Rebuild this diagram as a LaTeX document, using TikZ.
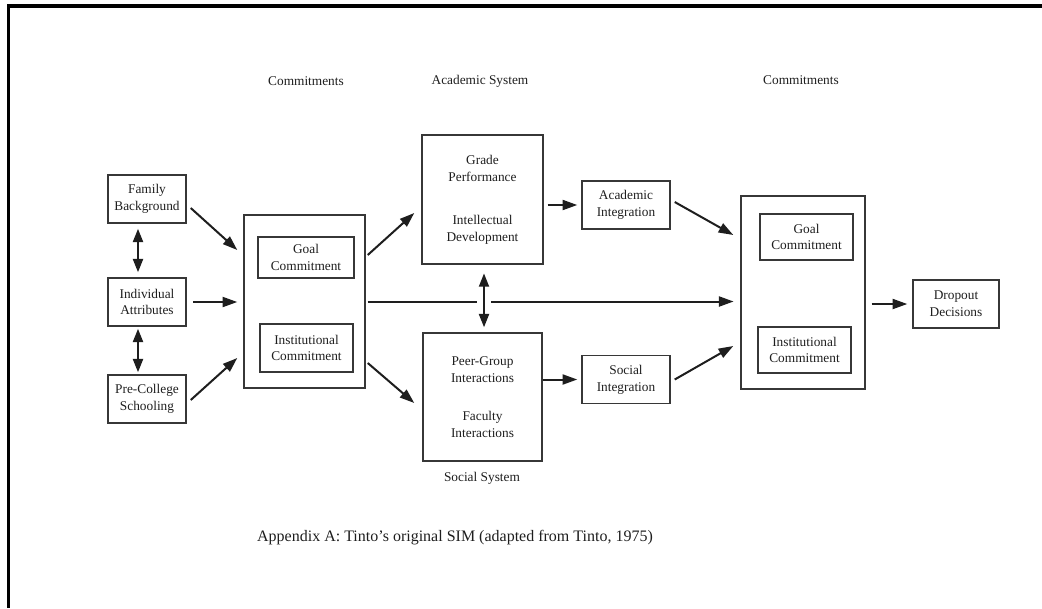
\documentclass[tikz,border=0pt]{standalone}
\usepackage{fontspec}
\setmainfont{Liberation Serif}
\usepackage{tikz}
\usetikzlibrary{arrows.meta, calc}
\definecolor{boxline}{RGB}{55,55,55}
\definecolor{inkdark}{RGB}{30,30,30}
\tikzset{
  box/.style={rectangle, draw=boxline, line width=1.1pt, align=center,
    inner sep=0pt, text=inkdark, font=\fontsize{10}{12.5}\selectfont},
  heading/.style={inner sep=0pt, text=inkdark, font=\fontsize{10}{12}\selectfont},
  caption/.style={inner sep=0pt, text=inkdark, font=\fontsize{12}{14}\selectfont},
  frame/.style={line width=2.3pt, black},
  arrow/.style={-{Triangle[length=11pt,width=7.5pt]}, line width=1.5pt, color=inkdark},
  dblarrow/.style={{Triangle[length=10pt,width=7.5pt]}-{Triangle[length=10pt,width=7.5pt]},
    line width=1.5pt, color=inkdark}
}

\begin{document}
\begin{tikzpicture}[x=0.75pt, y=-0.75pt]
  \useasboundingbox (0,0) rectangle (1042,608);

  % Frame
  \draw[frame] (7,6) -- (1042,6);
  \draw[frame] (8.5,4.8) -- (8.5,608);

  % Headings
  \node[heading] (hdrL) at (306,81) {Commitments};
  \node[heading] (hdrA) at (480,81) {Academic System};
  \node[heading] (hdrR) at (801,80) {Commitments};
  \node[heading] (hdrS) at (482,478) {Social System};

  % Background
  \node[box, minimum width=58.5pt, minimum height=36pt] (fam) at (147,199) {Family\\Background};
  \node[box, minimum width=58.5pt, minimum height=36pt] (ind) at (147,302) {Individual\\Attributes};
  \node[box, minimum width=58.5pt, minimum height=36pt] (pre) at (147,399) {Pre-College\\Schooling};

  % Commitments (left)
  \node[box, minimum width=90.75pt, minimum height=129.75pt] (comL) at (304.5,301.5) {};
  \node[box, minimum width=72pt, minimum height=30.75pt] (goalL) at (306,257.5) {Goal\\Commitment};
  \node[box, minimum width=69.75pt, minimum height=36pt] (instL) at (306.5,348) {Institutional\\Commitment};

  % Systems
  \node[box, minimum width=90.75pt, minimum height=96.75pt] (acad) at (482.5,199.5)
    {Grade\\Performance\\[20pt]Intellectual\\Development};
  \node[box, minimum width=89.25pt, minimum height=96pt] (soc) at (482.5,397)
    {Peer-Group\\Interactions\\[16pt]Faculty\\Interactions};

  % Integration
  \node[box, minimum width=66pt, minimum height=36pt] (acint) at (626,205) {Academic\\Integration};
  \node[box, minimum width=66pt, minimum height=36pt] (soint) at (626,379.5) {Social\\Integration};

  % Commitments (right)
  \node[box, minimum width=93pt, minimum height=144.75pt] (comR) at (803,292.5) {};
  \node[box, minimum width=69.75pt, minimum height=34.5pt] (goalR) at (806.5,237) {Goal\\Commitment};
  \node[box, minimum width=69.75pt, minimum height=34.5pt] (instR) at (804.5,350) {Institutional\\Commitment};

  % Outcome
  \node[box, minimum width=64.5pt, minimum height=36pt] (drop) at (956,304) {Dropout\\Decisions};

  % Caption
  \node[caption] (cap) at (455,538) {Appendix A: Tinto’s original SIM (adapted from Tinto, 1975)};

  % Arrows
  \draw[dblarrow] ($(fam.south)+(-9,5)$) -- ($(ind.north)+(-9,-5)$);
  \draw[dblarrow] ($(ind.south)+(-9,2)$) -- ($(pre.north)+(-9,-2)$);
  \draw[arrow] ($(fam.east)+(4,9)$) -- ($(comL.west)+(-6,-51.5)$);
  \draw[arrow, shorten <=5pt, shorten >=4.5pt] (ind.east) -- (ind.east -| comL.west);
  \draw[arrow] ($(pre.east)+(4,1)$) -- ($(comL.west)+(-6,56.5)$);
  \draw[arrow] ($(comL.east)+(2,-46.5)$) -- ($(acad.west)+(-7,13.5)$);
  \draw[arrow] ($(comL.east)+(2,61.5)$) -- ($(soc.west)+(-8,6)$);
  \draw[arrow, shorten <=3pt, shorten >=3pt] (acad.east |- acint.west) -- (acint.west);
  \draw[arrow, shorten >=3pt] (soc.east |- soint.west) -- (soint.west);
  \draw[arrow, shorten <=1.5pt, shorten >=5pt] (comL.east) -- (comL.east -| comR.west);
  \draw[dblarrow, shorten <=6.5pt, shorten >=3.75pt,
    preaction={draw=white, line width=10pt, -, shorten <=14pt, shorten >=14pt}]
    ($(acad.south)+(1.5,0)$) -- ($(soc.north)+(1.5,0)$);
  \draw[arrow] ($(acint.east)+(4,-3)$) -- ($(comR.west)+(-7,-57.5)$);
  \draw[arrow] ($(soint.east)+(4,0)$) -- ($(comR.west)+(-7,53.5)$);
  \draw[arrow, shorten <=4.5pt, shorten >=3.75pt] (comR.east |- drop.west) -- (drop.west);
\end{tikzpicture}
\end{document}
